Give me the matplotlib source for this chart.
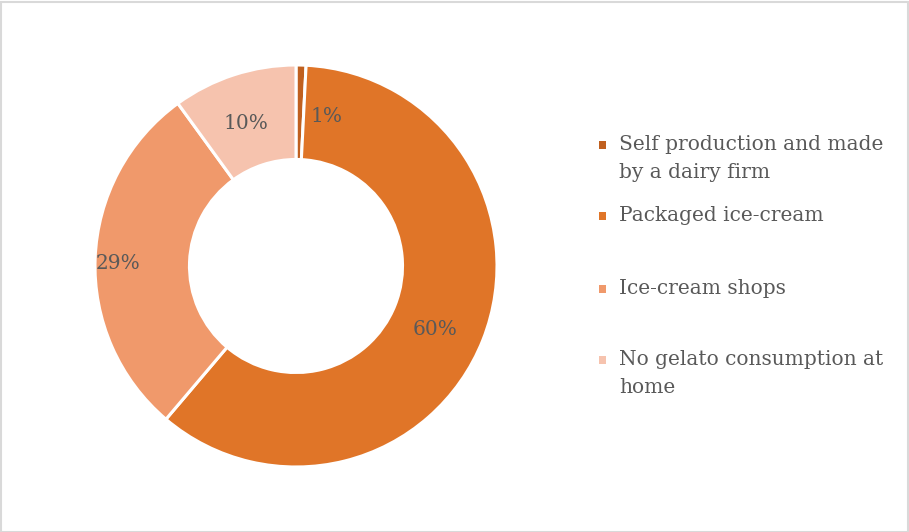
import matplotlib
matplotlib.use("Agg")
import matplotlib.pyplot as plt
from matplotlib.patches import Rectangle
import numpy as np

categories = ["Self production and made\nby a dairy firm",
              "Packaged ice-cream",
              "Ice-cream shops",
              "No gelato consumption at\nhome"]
values = [0.8, 60.4, 28.8, 10.0]
labels = ["1%", "60%", "29%", "10%"]
colors = ["#C0601F", "#E07528", "#F0996B", "#F6C3AE"]

W, H = 909, 532
fig = plt.figure(figsize=(W / 100, H / 100), dpi=100)
fig.patch.set_facecolor("white")
fig.add_artist(Rectangle((0.5 / W, 0.5 / H), 1 - 2.0 / W, 1 - 2.0 / H, transform=fig.transFigure,
                         fill=False, edgecolor="#D9D9D9", linewidth=1.5))

cx, cy, R = 296, 266, 201
ax = fig.add_axes([(cx - R) / W, (H - cy - R) / H, 2 * R / W, 2 * R / H])
wedges, _ = ax.pie(values, colors=colors, startangle=90, counterclock=False,
                   radius=1.0, wedgeprops=dict(width=0.47, edgecolor="white", linewidth=2.2))
ax.set_xlim(-1, 1)
ax.set_ylim(-1, 1)
ax.set_aspect("equal")
ax.axis("off")

font = "DejaVu Serif"
tc = "#595959"
fs = 14.5
# label placement tweaks (angle offset in degrees, radius)
offsets = [-9.9, -2.8, 1.4, 1.4]
radii = [0.761, 0.761, 0.886, 0.749]
for w, lab, off, r in zip(wedges, labels, offsets, radii):
    mid = (w.theta1 + w.theta2) / 2 + off
    ang = np.deg2rad(mid)
    ax.text(r * np.cos(ang), r * np.sin(ang), lab, ha="center", va="center",
            fontsize=fs, color=tc, family=font)

# legend
leg_y = [145, 216, 289, 360]
for cat, col, y in zip(categories, colors, leg_y):
    fig.add_artist(Rectangle((598.5 / W, (H - y - 3.5) / H), 7.5 / W, 7.5 / H,
                             transform=fig.transFigure, facecolor=col, edgecolor="none"))
    fig.text(619 / W, (H - y + 10) / H, cat, ha="left", va="top", fontsize=fs, color=tc,
             family=font, linespacing=1.58)

fig.savefig("out.png", dpi=100)
